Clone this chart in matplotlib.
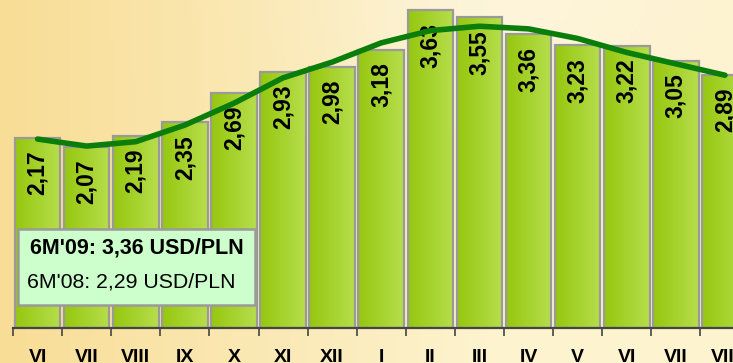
import matplotlib
matplotlib.use("Agg")
import matplotlib.pyplot as plt
import numpy as np
from matplotlib.colors import to_rgb
from matplotlib.patches import Rectangle

# ---- data ----
months = ["VI", "VII", "VIII", "IX", "X", "XI", "XII", "I", "II", "III",
          "IV", "V", "VI", "VII", "VIII"]
rates = [2.17, 2.07, 2.19, 2.35, 2.69, 2.93, 2.98, 3.18, 3.63, 3.55,
         3.36, 3.23, 3.22, 3.05, 2.89]
trend = [2.16, 2.08, 2.13, 2.32, 2.57, 2.86, 3.04, 3.26, 3.40, 3.45,
         3.42, 3.31, 3.15, 3.02, 2.89]
box_line1 = "6M'09: 3,36 USD/PLN"
box_line2 = "6M'08: 2,29 USD/PLN"

FONT = ["Liberation Sans", "DejaVu Sans"]

W, H = 733, 363
fig = plt.figure(figsize=(W / 100, H / 100), dpi=100)

# ---- cream background ----
bg = fig.add_axes([0, 0, 1, 1])
gx = np.linspace(0, 1, 200)
gy = np.linspace(0, 1, 100)
X, Y = np.meshgrid(gx, gy)
c_left = np.array(to_rgb("#f8dd96"))
c_right = np.array(to_rgb("#fdf3cf"))
c_top = np.array(to_rgb("#fdf6e2"))
t = np.clip(X * 1.5, 0, 1)[..., None]
img = c_left * (1 - t) + c_right * t
glow = (np.exp(-((X - 0.7) ** 2) / 0.05 - (Y ** 2) / 0.08))[..., None] * 0.6
img = img * (1 - glow) + c_top * glow
bg.imshow(img, aspect="auto", extent=[0, 1, 1, 0])
bg.axis("off")

# ---- bars ----
x0_px, step_px, base_px = 13, 49.1, 328
ax = fig.add_axes([x0_px / W, (H - base_px) / H, step_px * 15 / W, base_px / H])
ax.patch.set_alpha(0)
x = np.arange(len(months))
bars = ax.bar(x, rates, width=0.93, facecolor="none", edgecolor="#9a9a9a",
              linewidth=1.6, zorder=3)
grad = np.linspace(0, 1, 50)[None, :, None]
g_img = np.array(to_rgb("#96c70f")) * (1 - grad) + np.array(to_rgb("#b6de4c")) * grad
for b in bars:
    im = ax.imshow(g_img, aspect="auto", zorder=2,
                   extent=[b.get_x(), b.get_x() + b.get_width(), 0, b.get_height()])
    im.set_clip_path(b)

for xi, v in zip(x, rates):
    ax.annotate(f"{v:.2f}".replace(".", ","), (xi, v), xytext=(0, -9),
                textcoords="offset points", rotation=90, ha="center", va="top",
                fontsize=16.5, fontweight="bold", family=FONT, zorder=5)

ax.plot(x, trend, color="#0a7d0a", linewidth=4, solid_capstyle="round",
        solid_joinstyle="round", zorder=6)

ax.set_xlim(-0.5, 14.5)
ax.set_ylim(0, 3.75)
for s in ["top", "right", "left"]:
    ax.spines[s].set_visible(False)
ax.spines["bottom"].set_color("#444444")
ax.spines["bottom"].set_linewidth(1.6)
ax.spines["bottom"].set_zorder(7)
ax.set_yticks([])
ax.set_xticks(x)
ax.set_xticklabels(months, fontsize=14, fontweight="bold", family=FONT)
ax.tick_params(axis="x", which="major", length=0, pad=15)
ax.set_xticks(np.arange(-0.5, 15, 1), minor=True)
ax.tick_params(axis="x", which="minor", length=6, width=1.2, color="#444444")

# ---- info box ----
fig.patches.append(Rectangle((18 / W, (H - 305) / H), 237 / W, 76 / H,
                             transform=fig.transFigure, facecolor="#ccffcc",
                             edgecolor="#9a9a9a", linewidth=1.8, zorder=8))
fig.text(137 / W, 1 - 248 / H, box_line1, ha="center", va="center",
         fontsize=15.5, fontweight="bold", family=FONT, zorder=9)
fig.text(131 / W, 1 - 282 / H, box_line2, ha="center", va="center",
         fontsize=15.3, family=FONT, zorder=9)

fig.savefig("out.png", dpi=100)
